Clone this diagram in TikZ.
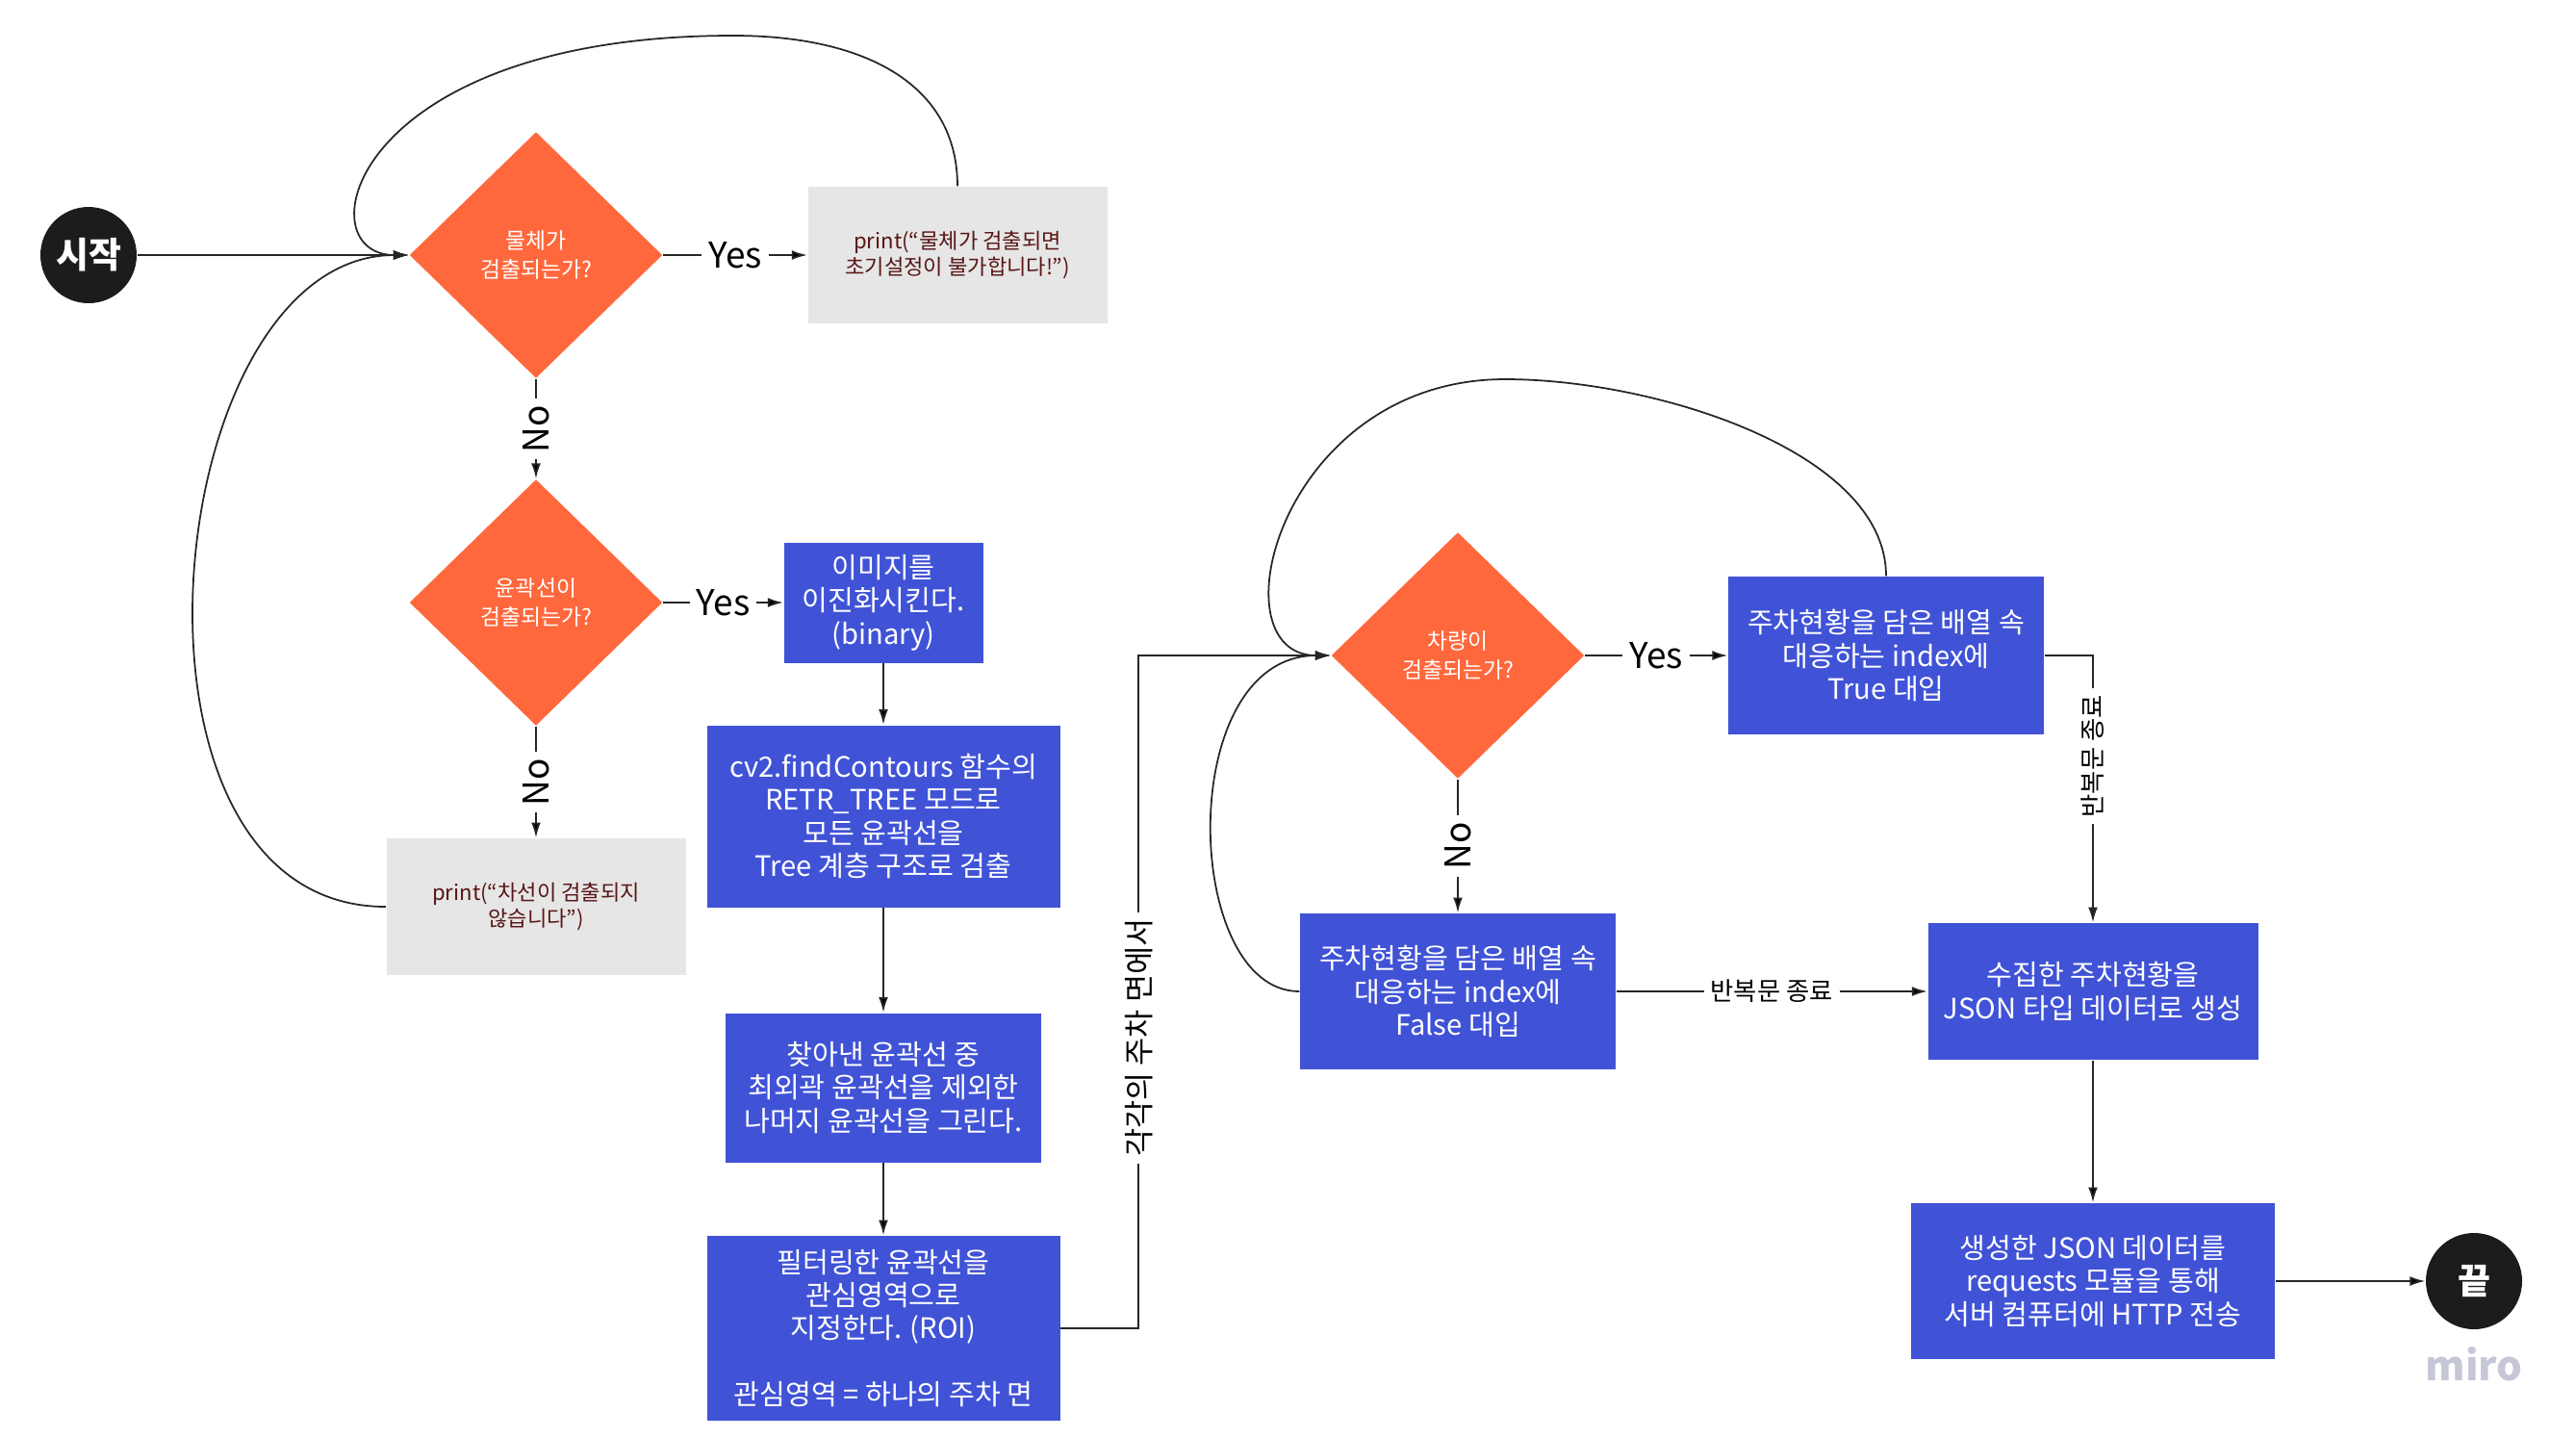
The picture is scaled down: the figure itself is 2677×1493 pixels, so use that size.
\documentclass[tikz,border=0pt]{standalone}
\usepackage{fontspec}
\setmainfont{Noto Sans CJK KR}
\usetikzlibrary{shapes.geometric,positioning,arrows.meta}
\definecolor{procblue}{HTML}{4053D6}
\definecolor{decorange}{HTML}{FF683D}
\definecolor{msggray}{HTML}{E6E6E6}
\definecolor{msgred}{HTML}{5A1616}
\definecolor{termblack}{HTML}{1C1C1C}
\definecolor{mirogray}{HTML}{C6C7D6}
\newcommand{\boxfont}{\fontsize{8.3pt}{9.8pt}\selectfont}
\newcommand{\decfont}{\fontsize{6.5pt}{8.3pt}\selectfont}
\newcommand{\msgfont}{\fontsize{6.3pt}{7.8pt}\selectfont}
\newcommand{\termfont}{\fontsize{10.5pt}{12pt}\selectfont\bfseries}
\newcommand{\yesnofont}{\fontsize{10.5pt}{12pt}\selectfont}
\newcommand{\loopfont}{\fontsize{7.5pt}{9pt}\selectfont}
\newcommand{\facefont}{\fontsize{9pt}{11pt}\selectfont}

\begin{document}
\begin{tikzpicture}[x=0.1mm,y=-0.1mm,node distance=2cm,on grid,
		>={Latex[length=4.5pt,width=2.8pt]},
		line/.style={draw=black!85,line width=0.5pt},
		terminal/.style={circle,fill=termblack,text=white,minimum size=1cm,inner sep=0pt,font=\termfont},
		decision/.style={diamond,fill=decorange,text=white,minimum width=2.63cm,minimum height=2.56cm,inner sep=0pt,align=center,font=\decfont},
		process/.style={rectangle,fill=procblue,text=white,inner sep=0pt,align=center,font=\boxfont},
		message/.style={rectangle,fill=msggray,text=msgred,minimum width=3.11cm,minimum height=1.42cm,inner sep=0pt,align=center,font=\msgfont},
		lbl/.style={fill=white,inner sep=2pt,font=\yesnofont},
		looplbl/.style={fill=white,inner sep=2pt,font=\loopfont}]
			\useasboundingbox (0,0) rectangle (2677,1493);
			\node[terminal] (start) at (92,265) {시작};
			\node[decision] (d_1) [right=4.65cm of start] {물체가\\검출되는가?};
			\node[message] (print_1) [right=4.38cm of d_1] {print(“물체가 검출되면\\초기설정이 불가합니다!”)};
			\node[decision] (d_2) [below=3.61cm of d_1] {윤곽선이\\검출되는가?};
			\node[process, minimum width=2.07cm, minimum height=1.25cm] (binary) [right=3.61cm of d_2] {이미지를\\이진화시킨다.\\(binary)};
			\node[message] (print_2) [below=3.16cm of d_2] {print(“차선이 검출되지\\않습니다”)};
			\node[process, minimum width=3.67cm, minimum height=1.89cm] (contours) [below=2.22cm of binary] {cv2.findContours 함수의\\RETR\_TREE 모드로\\모든 윤곽선을\\Tree 계층 구조로 검출};
			\node[process, minimum width=3.28cm, minimum height=1.55cm] (inner) [below=2.82cm of contours] {찾아낸 윤곽선 중\\최외곽 윤곽선을 제외한\\나머지 윤곽선을 그린다.};
			\node[process, minimum width=3.67cm, minimum height=1.92cm] (roi) [below=2.5cm of inner] {필터링한 윤곽선을\\관심영역으로\\지정한다. (ROI)\\[9.8pt]관심영역 = 하나의 주차 면};
			\node[decision] (d_3) [below right=0.55cm and 9.58cm of d_2] {차량이\\검출되는가?};
			\node[process, minimum width=3.28cm, minimum height=1.64cm] (set_t) [right=4.45cm of d_3] {주차현황을 담은 배열 속\\대응하는 index에\\True 대입};
			\node[process, minimum width=3.28cm, minimum height=1.62cm] (set_f) [below=3.49cm of d_3] {주차현황을 담은 배열 속\\대응하는 index에\\False 대입};
			\node[process, minimum width=3.43cm, minimum height=1.42cm] (json) [right=6.6cm of set_f] {수집한 주차현황을\\JSON 타입 데이터로 생성};
			\node[process, minimum width=3.78cm, minimum height=1.62cm] (send) [below=3.01cm of json] {생성한 JSON 데이터를\\requests 모듈을 통해\\서버 컴퓨터에 HTTP 전송};
			\node[terminal] (finish) [right=3.96cm of send] {끝};
			\node[text=mirogray, font=\fontsize{12pt}{14pt}\selectfont\bfseries] (logo) [below=0.86cm of finish] {miro};
			\path[->, line]
			(start) edge (d_1)
			(d_1) edge node[lbl] {Yes} (print_1)
			edge node[lbl, rotate=90] {No} (d_2)
			(d_2) edge node[lbl] {Yes} (binary)
			edge node[lbl, rotate=90] {No} (print_2)
			(binary) edge (contours)
			(contours) edge (inner)
			(inner) edge (roi)
			(d_3) edge node[lbl] {Yes} (set_t)
			edge node[lbl, rotate=90] {No} (set_f)
			(set_f) edge node[looplbl] {반복문 종료} (json)
			(json) edge (send)
			(send) edge (finish);
			\draw[->, line] (print_1.north) .. controls +(0,-105) and +(138,0) .. (762,37)
				.. controls +(-400,0) and +(-110,0) .. (d_1.west);
			\draw[->, line] (print_2.west) .. controls +(-300,0) and +(-260,0) .. (d_1.west);
			\draw[->, line] (roi.east) -- ++(81,0) |- node[lbl, rotate=90, pos=0.216, font=\facefont] {각각의 주차 면에서} (d_3.west);
			\draw[->, line] (set_t.north) .. controls +(0,-129) and +(156,0) .. (1564,394)
				.. controls +(-234,0) and +(-123,0) .. (d_3.west);
			\draw[->, line] (set_f.west) .. controls +(-122,0) and +(-163,0) .. (d_3.west);
			\draw[->, line] (set_t.east) -| node[looplbl, rotate=90, pos=0.689] {반복문 종료} (json.north);
		\end{tikzpicture}
\end{document}
